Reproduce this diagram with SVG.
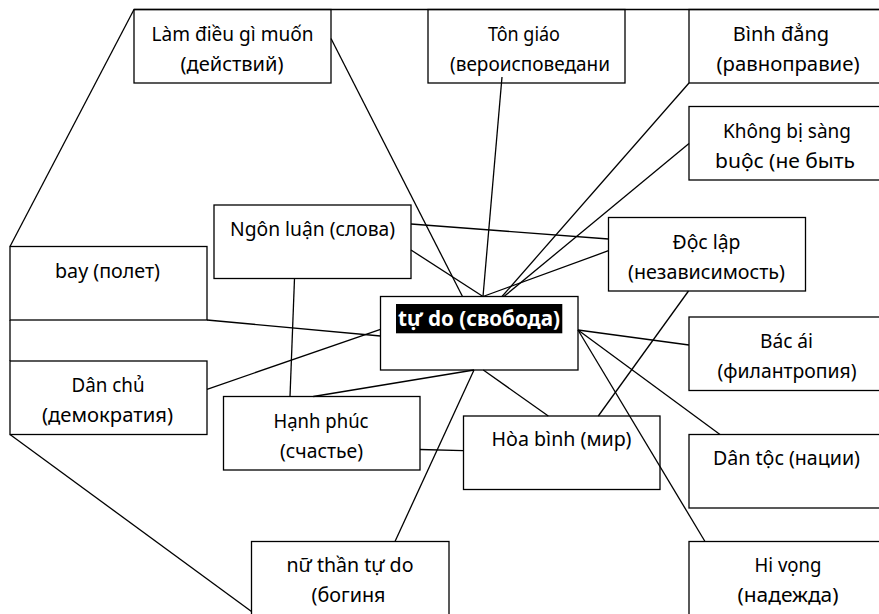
<svg xmlns="http://www.w3.org/2000/svg" width="879" height="614" viewBox="0 0 879 614">
<style>
.box{fill:#fff;stroke:#000;stroke-width:1.3}
.t{font-family:"Noto Sans","DejaVu Sans",sans-serif;font-size:20px;fill:#000;text-anchor:middle}
.c line{stroke:#000;stroke-width:1.3}
.ct{font-family:"Noto Sans","DejaVu Sans",sans-serif;font-size:21px;font-weight:bold;fill:#fff;text-anchor:middle}
</style>
<rect width="879" height="614" fill="#fff"/>
<g id="n-lam"><rect class="box" x="134" y="9.5" width="197" height="73.5"/><text class="t" x="232.5" y="40.5" textLength="162" lengthAdjust="spacingAndGlyphs">Làm điều gì muốn</text><text class="t" x="232" y="70.5" textLength="103" lengthAdjust="spacingAndGlyphs">(действий)</text></g>
<g id="n-ton"><rect class="box" x="428" y="9.5" width="197" height="73.5"/><text class="t" x="524" y="40.5" textLength="72" lengthAdjust="spacingAndGlyphs">Tôn giáo</text><text class="t" x="530" y="70.5" textLength="160" lengthAdjust="spacingAndGlyphs">(вероисповедани</text></g>
<g id="n-binh"><rect class="box" x="689" y="9.5" width="197" height="73.5"/><text class="t" x="781" y="40.5"><tspan>Bình đ</tspan><tspan>ẳ</tspan><tspan>ng</tspan></text><text class="t" x="788" y="70.5" textLength="143" lengthAdjust="spacingAndGlyphs">(равноправие)</text></g>
<g id="n-khong"><rect class="box" x="689" y="106.5" width="197" height="73.5"/><text class="t" x="787" y="137.5" textLength="128" lengthAdjust="spacingAndGlyphs">Không bị sàng</text><text class="t" x="785" y="167.5" textLength="140" lengthAdjust="spacingAndGlyphs">buộc (не быть</text></g>
<g id="n-ngon"><rect class="box" x="214" y="205" width="197" height="73.5"/><text class="t" x="312.5" y="236" textLength="165" lengthAdjust="spacingAndGlyphs">Ngôn luận (слова)</text></g>
<g id="n-doc"><rect class="box" x="608.5" y="217.5" width="197" height="73.5"/><text class="t" x="706.5" y="248.5" textLength="68" lengthAdjust="spacingAndGlyphs">Độc lập</text><text class="t" x="706.5" y="278.5" textLength="157" lengthAdjust="spacingAndGlyphs">(независимость)</text></g>
<g id="n-bay"><rect class="box" x="10" y="246.5" width="197" height="73.5"/><text class="t" x="107.5" y="277.5" textLength="105" lengthAdjust="spacingAndGlyphs">bay (полет)</text></g>
<g id="n-center"><rect class="box" x="380.5" y="296.5" width="197.5" height="73.5"/><rect x="396" y="304" width="166.3" height="29.3" fill="#000"/><text class="ct" x="479" y="326" textLength="162" lengthAdjust="spacingAndGlyphs">tự do (свобода)</text></g>
<g id="n-bac"><rect class="box" x="689" y="317" width="197" height="73.5"/><text class="t" x="786.5" y="348" textLength="53" lengthAdjust="spacingAndGlyphs">Bác ái</text><text class="t" x="787" y="378" textLength="139" lengthAdjust="spacingAndGlyphs">(филантропия)</text></g>
<g id="n-danchu"><rect class="box" x="10" y="361" width="197" height="73.5"/><text class="t" x="108" y="392" textLength="73" lengthAdjust="spacingAndGlyphs">Dân chủ</text><text class="t" x="107.5" y="422" textLength="131" lengthAdjust="spacingAndGlyphs">(демократия)</text></g>
<g id="n-hanh"><rect class="box" x="223.5" y="396.5" width="196.5" height="73.5"/><text class="t" x="321" y="427.5" textLength="95" lengthAdjust="spacingAndGlyphs">Hạnh phúc</text><text class="t" x="321.5" y="457.5" textLength="83" lengthAdjust="spacingAndGlyphs">(счастье)</text></g>
<g id="n-hoa"><rect class="box" x="463.5" y="416" width="196.5" height="73.5"/><text class="t" x="561.5" y="445.5" textLength="140" lengthAdjust="spacingAndGlyphs">Hòa bình (мир)</text></g>
<g id="n-dantoc"><rect class="box" x="689" y="434.5" width="197" height="73.5"/><text class="t" x="786.5" y="465" textLength="147" lengthAdjust="spacingAndGlyphs">Dân tộc (нации)</text></g>
<g id="n-nu"><rect class="box" x="251.5" y="541.5" width="197.5" height="74"/><text class="t" x="350" y="572" textLength="127" lengthAdjust="spacingAndGlyphs">nữ thần tự do</text><text class="t" x="348.5" y="602" textLength="74" lengthAdjust="spacingAndGlyphs">(богиня</text></g>
<g id="n-hi"><rect class="box" x="689" y="541.5" width="197" height="74"/><text class="t" x="788" y="572" textLength="67" lengthAdjust="spacingAndGlyphs">Hi vọng</text><text class="t" x="788" y="602" textLength="101" lengthAdjust="spacingAndGlyphs">(надежда)</text></g>
<g id="connectors" class="c">
<line x1="134" y1="9.5" x2="879" y2="9.5"/>
<line x1="134" y1="9.5" x2="10" y2="246.5"/>
<line x1="10" y1="320" x2="10" y2="361"/>
<line x1="207" y1="320" x2="380.5" y2="336"/>
<line x1="207" y1="389.3" x2="380.5" y2="329.3"/>
<line x1="411" y1="224" x2="608.5" y2="239"/>
<line x1="411" y1="250" x2="483" y2="296.5"/>
<line x1="331" y1="38.5" x2="462.5" y2="296.5"/>
<line x1="502" y1="77" x2="483" y2="296.5"/>
<line x1="689" y1="83" x2="502" y2="296.5"/>
<line x1="689" y1="143.5" x2="504" y2="296.5"/>
<line x1="608.5" y1="250.7" x2="483" y2="296.5"/>
<line x1="688.5" y1="291" x2="598.3" y2="416"/>
<line x1="578" y1="330" x2="689" y2="345"/>
<line x1="578" y1="330" x2="720" y2="434.5"/>
<line x1="578" y1="330" x2="705" y2="541.5"/>
<line x1="483.3" y1="370" x2="548.3" y2="416"/>
<line x1="474" y1="370" x2="395" y2="541.5"/>
<line x1="313.3" y1="396.5" x2="474" y2="370"/>
<line x1="294.5" y1="278.5" x2="290" y2="396.5"/>
<line x1="420" y1="449.5" x2="463.5" y2="450.7"/>
<line x1="10" y1="434.5" x2="251.5" y2="611.5"/>
</g>
</svg>
